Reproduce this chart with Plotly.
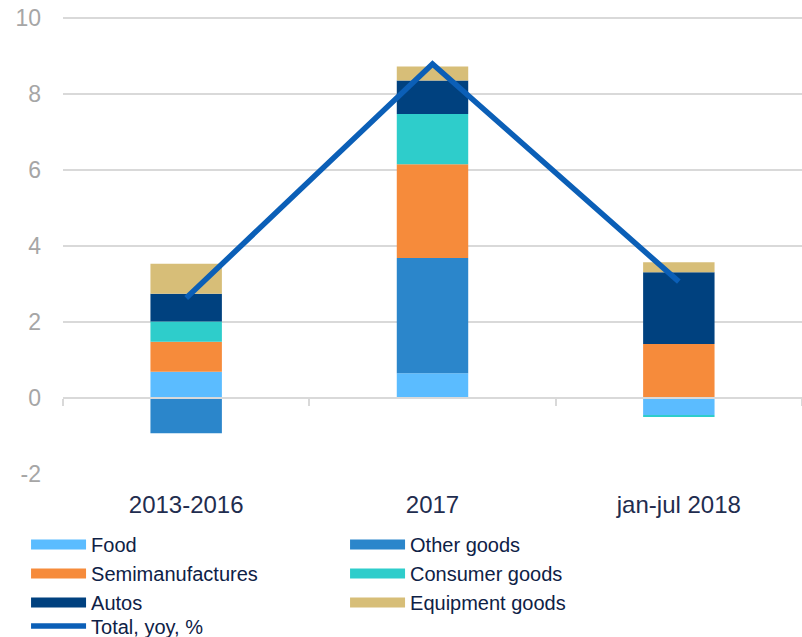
import plotly.graph_objects as go

periods = ["2013-2016", "2017", "jan-jul 2018"]

# contributions, percentage points
food = [0.69, 0.65, -0.45]
other_goods = [-0.93, 3.03, 0.0]
semimanufactures = [0.79, 2.47, 1.42]
consumer_goods = [0.53, 1.32, -0.04]
autos = [0.73, 0.88, 1.89]
equipment_goods = [0.79, 0.37, 0.26]
total_yoy = [2.63, 8.79, 3.06]

y_ticks = [-2, 0, 2, 4, 6, 8, 10]
y_tick_text = ["-2", "0", "2", "4", "6", "8", "10"]
# a hair above 10 so the top gridline is not dropped at the edge
y_range = [-2, 10.05]

series = [
    ("Food", food, "#5BBCFF"),
    ("Other goods", other_goods, "#2B86CB"),
    ("Semimanufactures", semimanufactures, "#F68B3B"),
    ("Consumer goods", consumer_goods, "#2ECDCB"),
    ("Autos", autos, "#00417F"),
    ("Equipment goods", equipment_goods, "#D7BE78"),
]
line_color = "#0B5FB7"

fig = go.Figure()
for name, vals, color in series:
    fig.add_trace(go.Bar(
        x=periods, y=vals, name=name, showlegend=False,
        marker=dict(color=color, line=dict(width=0)),
    ))

fig.add_trace(go.Scatter(
    x=periods, y=total_yoy, name="Total, yoy, %", showlegend=False,
    mode="lines", line=dict(color=line_color, width=5.5),
))

# legend entries: wide flat swatches like the original
for name, vals, color in series:
    fig.add_trace(go.Scatter(
        x=[periods[0]], y=[None], name=name, mode="lines",
        line=dict(color=color, width=14), hoverinfo="skip",
    ))
fig.add_trace(go.Scatter(
    x=[periods[0]], y=[None], name="Total, yoy, %", mode="lines",
    line=dict(color=line_color, width=5.5), hoverinfo="skip",
    legend="legend2",
))

# dummy axis that draws the zero line with ticks between categories
fig.add_trace(go.Scatter(
    x=periods, y=[0, 0, 0], xaxis="x2", mode="lines",
    line=dict(width=0), showlegend=False, hoverinfo="skip",
))

legend_style = dict(
    orientation="h", xanchor="left", yanchor="top",
    font=dict(size=20, color="#0E2146"),
    entrywidth=249, entrywidthmode="pixels",
    itemwidth=55, tracegroupgap=0,
    bgcolor="rgba(0,0,0,0)",
)

fig.update_layout(
    width=802, height=637,
    margin=dict(l=63, r=0, t=16, b=163, autoexpand=False),
    paper_bgcolor="white", plot_bgcolor="white",
    barmode="relative", bargap=0.71,
    font=dict(family="Liberation Sans, Arial, sans-serif"),
    showlegend=True,
    legend=dict(x=-0.05, y=-0.1115, **legend_style),
    legend2=dict(x=-0.05, y=-0.2895, **legend_style),
    xaxis=dict(
        showgrid=False, showline=False, ticks="",
        tickfont=dict(size=24, color="#1F2D4F"),
        ticklabelstandoff=14,
    ),
    xaxis2=dict(
        matches="x", overlaying="x", anchor="free",
        position=-y_range[0] / (y_range[1] - y_range[0]),
        showticklabels=False, showgrid=False,
        showline=True, linecolor="#D9D9D9", linewidth=1.5,
        ticks="outside", tickson="boundaries", ticklen=7,
        tickcolor="#D9D9D9", tickwidth=1.5,
    ),
    yaxis=dict(
        range=y_range, tickvals=y_ticks, ticktext=y_tick_text,
        showgrid=True, gridcolor="#D9D9D9", gridwidth=1.5,
        zeroline=False, showline=False,
        tickfont=dict(size=23, color="#A6A6A6"),
        ticklabelstandoff=21,
    ),
)

# drop the default page margin so the figure fills the window
fig.write_html(
    "out.html",
    config={"displayModeBar": False},
    post_script="document.body.style.margin = '0';",
)
